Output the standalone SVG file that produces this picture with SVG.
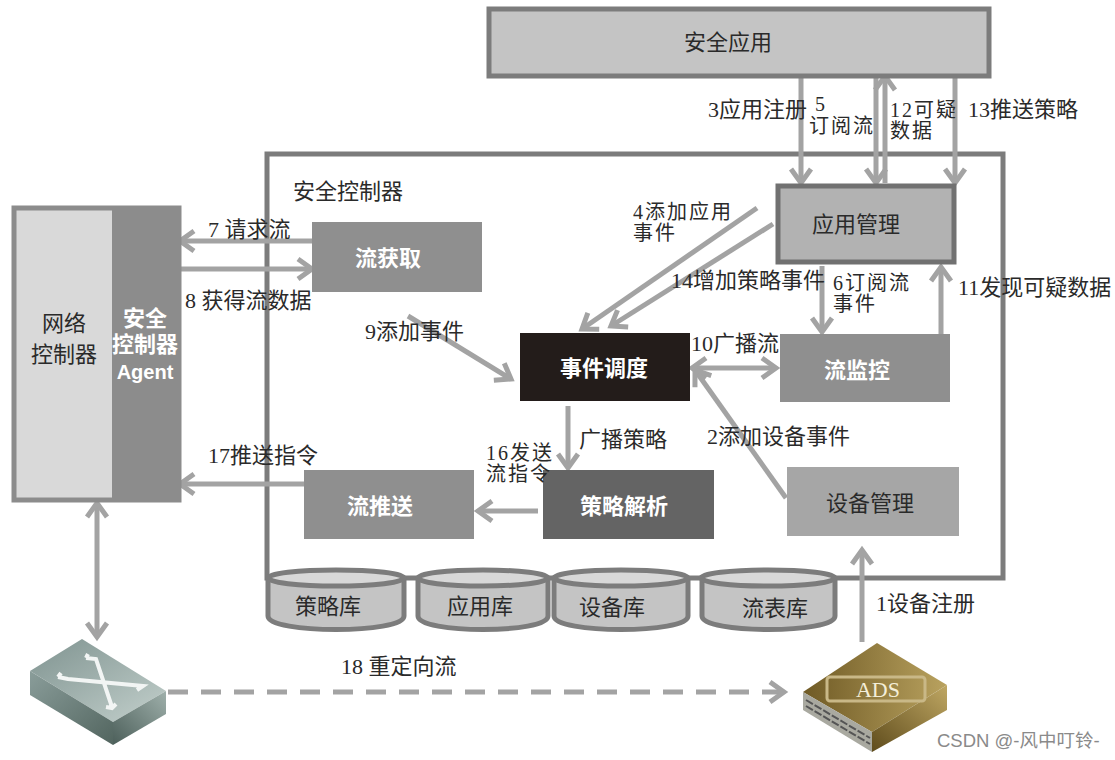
<svg xmlns="http://www.w3.org/2000/svg" width="1115" height="760" viewBox="0 0 1115 760">
<defs>
<style>
text{font-family:"Liberation Serif","Noto Sans CJK SC",serif;font-size:22px;fill:#2a2a2a}
.b{font-family:"Liberation Sans","Noto Sans CJK SC",sans-serif;font-weight:700;fill:#fff}
.c{text-anchor:middle}
.t{font-size:20px;letter-spacing:2px}
.l{stroke:#a3a3a3;stroke-width:5;fill:none}
.cy{fill:#c4c4c4;stroke:#7c7c7c;stroke-width:5}
.ct{fill:#d8d8d8;stroke:#7c7c7c;stroke-width:5}
</style>
<marker id="a" markerUnits="userSpaceOnUse" markerWidth="26" markerHeight="26" refX="19" refY="12" orient="auto-start-reverse" viewBox="0 0 26 24"><path d="M5 2 L19 12 L5 22" fill="none" stroke="#a3a3a3" stroke-width="5"/></marker>
<linearGradient id="sw1" x1="0" y1="0" x2="1" y2="1"><stop offset="0" stop-color="#7f9390"/><stop offset="1" stop-color="#c3d0cc"/></linearGradient>
<linearGradient id="sw2" x1="0" y1="0" x2="1" y2="1"><stop offset="0" stop-color="#8a9d9a"/><stop offset="1" stop-color="#52655f"/></linearGradient>
<linearGradient id="sw3" x1="0" y1="1" x2="1" y2="0"><stop offset="0" stop-color="#4c5f5a"/><stop offset="1" stop-color="#9fb0ab"/></linearGradient>
<linearGradient id="ad1" x1="0" y1="0.5" x2="1" y2="0.5"><stop offset="0" stop-color="#6f5a25"/><stop offset="1" stop-color="#b9a25f"/></linearGradient>
<linearGradient id="ad2" x1="0" y1="1" x2="1" y2="0"><stop offset="0" stop-color="#5f4c1c"/><stop offset="1" stop-color="#bfa763"/></linearGradient>
</defs>
<rect width="1115" height="760" fill="#fff"/>
<g id="controller"><rect x="267" y="154" width="736" height="424" fill="#fff" stroke="#7c7c7c" stroke-width="5"/><text x="293" y="199">安全控制器</text></g>
<g id="connectors">
<path class="l" d="M801 78V183" marker-end="url(#a)"/>
<path class="l" d="M876 76V183" marker-end="url(#a)"/>
<path class="l" d="M885 183V76" marker-end="url(#a)"/>
<path class="l" d="M955 78V183" marker-end="url(#a)"/>
<path class="l" d="M757 208L582 329" marker-end="url(#a)"/>
<path class="l" d="M773 224L611 326" marker-end="url(#a)"/>
<path class="l" d="M822 266V332" marker-end="url(#a)"/>
<path class="l" d="M941 334V267" marker-end="url(#a)"/>
<path class="l" d="M312 241H180" marker-end="url(#a)"/>
<path class="l" d="M180 269H312" marker-end="url(#a)"/>
<path class="l" d="M408 316L511 379" marker-end="url(#a)"/>
<path class="l" d="M692 368H776" marker-start="url(#a)" marker-end="url(#a)"/>
<path class="l" d="M786 498L695 370" marker-end="url(#a)"/>
<path class="l" d="M568 406V468" marker-end="url(#a)"/>
<path class="l" d="M538 511H478" marker-end="url(#a)"/>
<path class="l" d="M304 484H180" marker-end="url(#a)"/>
<path class="l" d="M97 503V637" marker-start="url(#a)" marker-end="url(#a)"/>
<path class="l" d="M862 642V550" marker-end="url(#a)"/>
<path class="l" d="M168 692H784" stroke-dasharray="20 13" marker-end="url(#a)"/>
</g>
<g id="app-security"><rect x="489" y="9" width="500" height="67" fill="#c4c4c4" stroke="#7c7c7c" stroke-width="5"/><text class="c" x="728" y="50">安全应用</text></g>
<g id="net-controller"><rect x="14" y="208" width="165" height="292" fill="#d9d9d9" stroke="#8c8c8c" stroke-width="5"/><rect x="112" y="209" width="66" height="291" fill="#8c8c8c"/><text class="c" x="64" y="331">网络</text><text class="c" x="64" y="362">控制器</text><text class="c b" x="145" y="326">安全</text><text class="c b" x="145" y="352">控制器</text><text class="c b" x="145" y="379" style="font-size:20px">Agent</text></g>
<g id="flow-get"><rect x="312" y="222" width="170" height="70" fill="#8f8f8f"/><text class="c b" x="388" y="266">流获取</text></g>
<g id="app-mgmt"><rect x="778" y="186" width="176" height="76" fill="#b2b2b2" stroke="#717171" stroke-width="5"/><text class="c" x="856" y="232">应用管理</text></g>
<g id="event"><rect x="520" y="333" width="170" height="68" fill="#231c1a"/><text class="c b" x="604" y="376">事件调度</text></g>
<g id="flow-mon"><rect x="780" y="334" width="170" height="68" fill="#8f8f8f"/><text class="c b" x="857" y="378">流监控</text></g>
<g id="policy"><rect x="543" y="470" width="171" height="69" fill="#646464"/><text class="c b" x="624" y="514">策略解析</text></g>
<g id="flow-push"><rect x="304" y="470" width="170" height="69" fill="#8f8f8f"/><text class="c b" x="380" y="514">流推送</text></g>
<g id="dev-mgmt"><rect x="787" y="467" width="172" height="69" fill="#a6a6a6"/><text class="c" x="870" y="511">设备管理</text></g>
<g id="db1"><path class="cy" d="M268 578V616C268 634 404 634 404 616V578"/><ellipse class="ct" cx="336" cy="578" rx="68" ry="8"/><text class="c" x="328" y="614">策略库</text></g>
<g id="db2"><path class="cy" d="M418 578V616C418 634 548 634 548 616V578"/><ellipse class="ct" cx="483" cy="578" rx="65" ry="8"/><text class="c" x="480" y="614">应用库</text></g>
<g id="db3"><path class="cy" d="M554 578V616C554 634 688 634 688 616V578"/><ellipse class="ct" cx="621" cy="578" rx="67" ry="8"/><text class="c" x="612" y="615">设备库</text></g>
<g id="db4"><path class="cy" d="M702 578V616C702 634 835 634 835 616V578"/><ellipse class="ct" cx="768" cy="578" rx="67" ry="8"/><text class="c" x="775" y="616">流表库</text></g>
<g id="switch">
<path d="M30 671L82 639L166 691L113 722Z" fill="url(#sw1)"/>
<path d="M30 671L113 722V745L30 695Z" fill="url(#sw2)"/>
<path d="M113 722L166 691V714L113 745Z" fill="url(#sw3)"/>
<path d="M86 658L96 659L112 707M58 677L68 679L143 686L137 690M106 707L112 708L116 704M86 658L88 654M58 677L61 673" stroke="#f2f5f4" stroke-width="4" fill="none"/>
</g>
<g id="ads">
<path d="M803 692L877 643L947 685L872 732Z" fill="url(#ad1)"/>
<path d="M803 692L872 732V752L803 710Z" fill="#a9a9a0"/>
<path d="M872 732L947 685V710L872 752Z" fill="url(#ad2)"/>
<path d="M806 706L870 744M806 700L870 738" stroke="#555" stroke-width="2" stroke-dasharray="8 2"/>
<rect x="827" y="677" width="98" height="24" rx="3" fill="none" stroke="#c9b887" stroke-width="3"/>
<text class="c" x="878" y="697" style="fill:#f4eed8">ADS</text>
</g>
<g id="labels">
<text x="708" y="117">3应用注册</text>
<text class="t" x="809" y="111"><tspan x="815">5</tspan><tspan x="809" dy="22">订阅流</tspan></text>
<text class="t" x="890" y="117"><tspan x="890">12可疑</tspan><tspan x="890" dy="21">数据</tspan></text>
<text x="968" y="117">13推送策略</text>
<text class="t" x="633" y="219"><tspan x="633">4添加应用</tspan><tspan x="633" dy="21">事件</tspan></text>
<text x="671" y="288">14增加策略事件</text>
<text class="t" x="833" y="290"><tspan x="833">6订阅流</tspan><tspan x="833" dy="21">事件</tspan></text>
<text x="958" y="295">11发现可疑数据</text>
<text x="208" y="237">7 请求流</text><text x="185" y="308">8 获得流数据</text><text x="365" y="339">9添加事件</text>
<text x="691" y="351">10广播流</text><text x="707" y="444">2添加设备事件</text><text x="579" y="447">广播策略</text>
<text class="t" x="486" y="460"><tspan x="486">16发送</tspan><tspan x="486" dy="21">流指令</tspan></text>
<text x="208" y="463">17推送指令</text>
<text x="876" y="611">1设备注册</text><text x="341" y="674">18 重定向流</text>
<text x="937" y="747" style="font-family:'Liberation Sans','Noto Sans CJK SC',sans-serif;font-size:18.5px;fill:#8a8a8a">CSDN @-风中叮铃-</text>
</g>
</svg>
